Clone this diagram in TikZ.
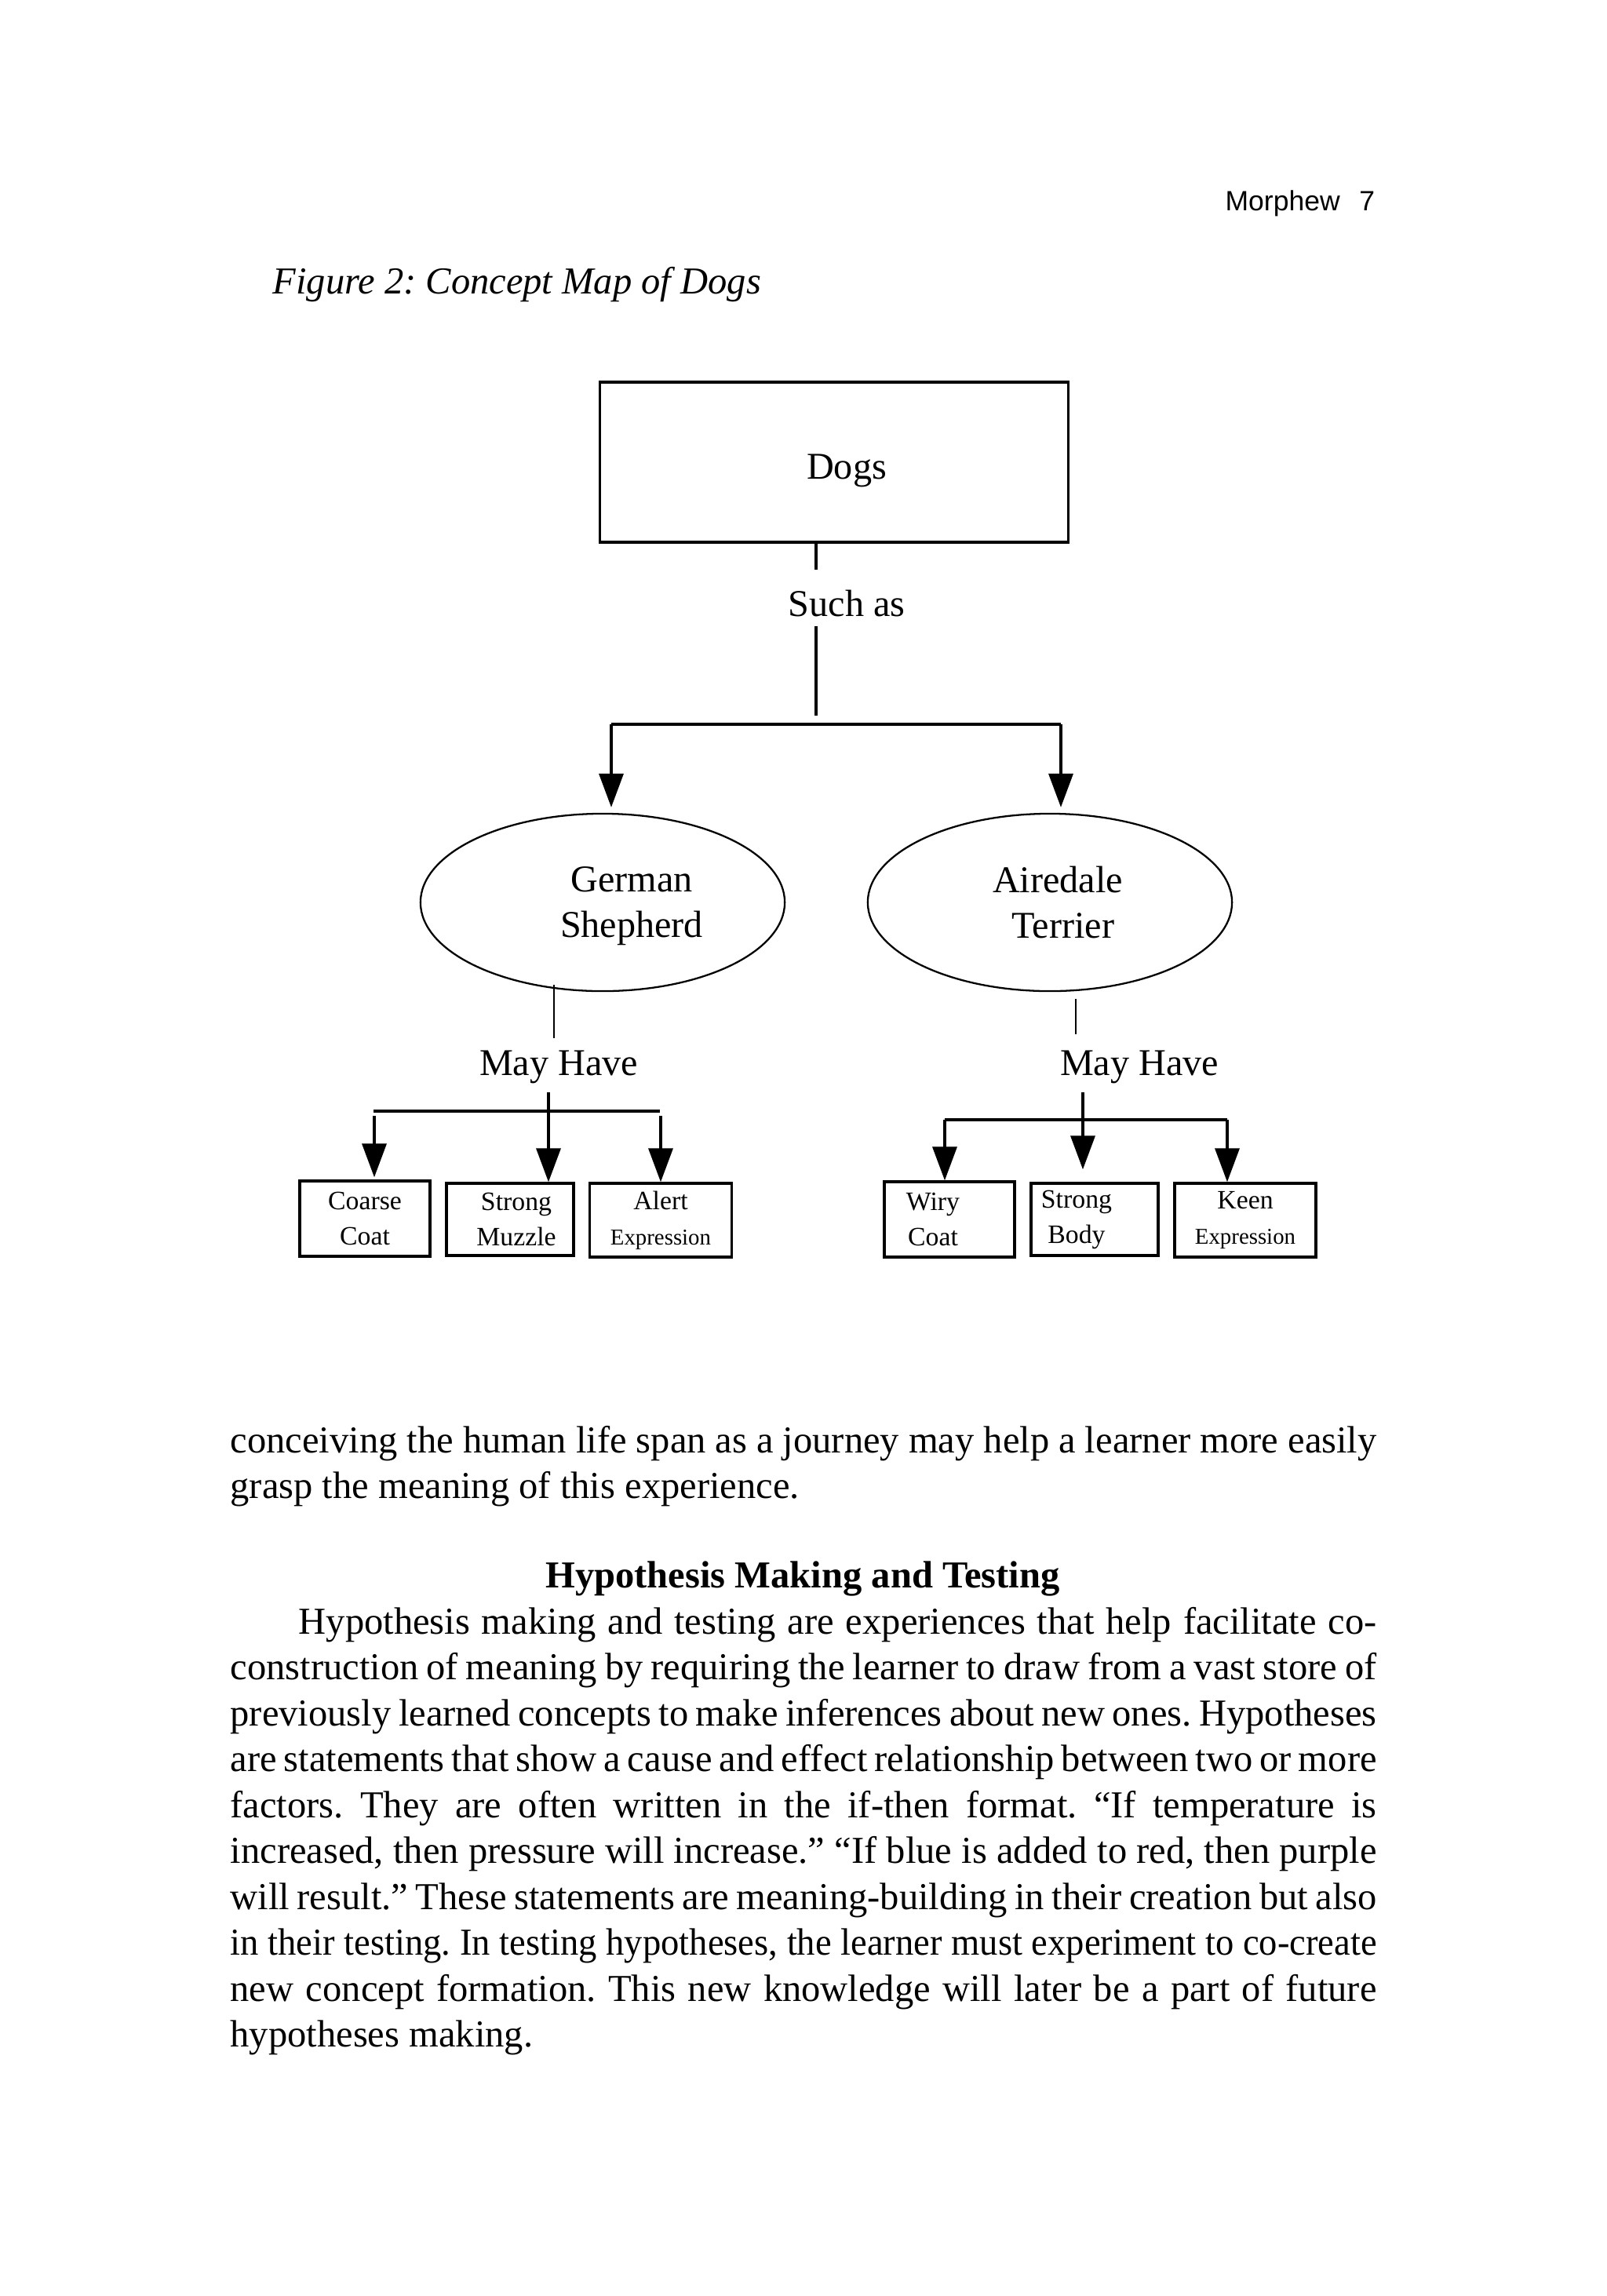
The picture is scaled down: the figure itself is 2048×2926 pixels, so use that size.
\documentclass[tikz,border=0pt]{standalone}
\usepackage{fontspec}
\setmainfont{Liberation Serif}
\newfontfamily\entete{Liberation Sans}
\usetikzlibrary{shapes.geometric,arrows.meta}
\frenchspacing

\begin{document}
\begin{tikzpicture}[x=0.01cm, y=-0.01cm]
\tikzset{
  boite/.style={draw, line width=0.95pt, inner sep=0pt, align=center, font=\fontsize{9.6}{12.8}\selectfont},
  gdboite/.style={draw, line width=0.9pt, inner sep=0pt, minimum width=5.96cm, minimum height=2.04cm, font=\fontsize{13.7}{16.5}\selectfont},
  bulle/.style={draw, ellipse, line width=0.65pt, inner sep=0pt, minimum width=4.64cm, minimum height=2.26cm, align=center, font=\fontsize{13.7}{16.5}\selectfont},
  mot/.style={inner sep=0pt, anchor=base, font=\fontsize{13.7}{16.5}\selectfont},
  lien/.style={line width=1pt},
  fin/.style={line width=0.7pt},
  fleche/.style={line width=1pt, -{Triangle[length=4.3mm, width=3.1mm]}},
  ligne/.style={inner sep=0pt, anchor=base west, font=\fontsize{13.8}{16.6}\selectfont},
}
\useasboundingbox (0,0) rectangle (2048,2926);
\node[inner sep=0pt, anchor=base east, font=\entete\fontsize{10.1}{12}\selectfont] (page) at (1753,268) {Morphew\hspace{0.7em}7};
\node[ligne, font=\fontsize{13.8}{16.6}\selectfont\itshape] (legende) at (347,374) {Figure 2: Concept Map of Dogs};

% la carte
\node[gdboite] (dogs) at (1063,589) {\hspace*{0.32cm}\raisebox{-0.21cm}[0pt][0pt]{Dogs}};
\node[mot] (suchas) at (1079,785) {Such as};
\node[bulle] (gs) at (768,1150) {\hspace*{0.74cm}German\\\hspace*{0.74cm}\raisebox{0pt}[\height][0pt]{Shepherd}};
\node[bulle] (at) at (1338,1150) {\hspace*{0.2cm}Airedale\\\hspace*{0.34cm}Terrier};
\node[mot] (mh1) at (712,1370) {May Have};
\node[mot] (mh2) at (1452,1370) {May Have};

\node[boite, minimum width=1.66cm, minimum height=0.96cm] (cc) at (465,1553) {Coarse\\Coat};
\node[boite, minimum width=1.62cm, minimum height=0.92cm] (sm) at (650,1554) {\hspace*{0.16cm}Strong\\\hspace*{0.16cm}Muzzle};
\node[boite, minimum width=1.81cm, minimum height=0.94cm] (ae) at (842,1555) {Alert\\{\fontsize{8.2}{12.8}\selectfont Expression}};
\node[boite, minimum width=1.66cm, minimum height=0.96cm] (wc) at (1210,1554) {Wiry\hspace*{0.42cm}\\Coat\hspace*{0.42cm}};
\node[boite, minimum width=1.62cm, minimum height=0.92cm] (sb) at (1395,1554) {Strong\hspace*{0.46cm}\\Body\hspace*{0.46cm}};
\node[boite, minimum width=1.80cm, minimum height=0.94cm] (ke) at (1587,1555) {Keen\\{\fontsize{8.2}{12.8}\selectfont Expression}};

\coordinate (s1) at (1040,726);
\coordinate (s2) at (1040,798);
\coordinate (s3) at (1040,912);
\coordinate (g1) at (779,923);
\coordinate (d1) at (1352,923);
\coordinate (gsbas) at (706,1255);
\coordinate (gsmh) at (706,1323);
\coordinate (atbas) at (1371,1273);
\coordinate (atmh) at (1371,1318);
\coordinate (mg) at (699,1392);
\coordinate (md) at (1380,1392);
\coordinate (hg1) at (476,1416);
\coordinate (hg2) at (841,1416);
\coordinate (fg1) at (477,1422);
\coordinate (fg3) at (842,1422);
\coordinate (hd1) at (1204,1427);
\coordinate (hd3) at (1564,1427);

\draw[lien] (dogs.south -| s1) -- (s1);
\draw[lien] (s2) -- (s3);
\draw[lien] (g1) -- (d1);
\draw[fleche, shorten >=0.07cm] (g1) -- (g1 |- gs.north);
\draw[fleche, shorten >=0.07cm] (d1) -- (d1 |- at.north);
\draw[fin] (gsbas) -- (gsmh);
\draw[fin] (atbas) -- (atmh);
\draw[lien] (hg1) -- (hg2);
\draw[fleche] (mg) -- (mg |- sm.north);
\draw[fleche, shorten >=0.03cm] (fg1) -- (fg1 |- cc.north);
\draw[fleche] (fg3) -- (fg3 |- ae.north);
\draw[lien] (hd1) -- (hd3);
\draw[fleche] (md) -- ([yshift=0.16cm]md |- sb.north);
\draw[fleche] (hd1) -- (hd1 |- wc.north);
\draw[fleche] (hd3) -- (hd3 |- ke.north);

% le texte
\node[ligne] (t1) at (293,1851) {\makebox[14.6cm][s]{conceiving the human life span as a journey may help a learner more easily}};
\node[ligne] (t2) at (293,1909) {grasp the meaning of this experience.};
\node[ligne, anchor=base] (titre) at (1023,2023.5) {\textbf{Hypothesis Making and Testing}};
\node[ligne] (p1) at (380,2082) {\makebox[13.73cm][s]{Hypothesis making and testing are experiences that help facilitate co-}};
\node[ligne] (p2) at (293,2140.5) {\makebox[14.6cm][s]{construction of meaning by requiring the learner to draw from a vast store of}};
\node[ligne] (p3) at (293,2199) {\makebox[14.6cm][s]{previously learned concepts to make inferences about new ones. Hypotheses}};
\node[ligne] (p4) at (293,2257.5) {\makebox[14.6cm][s]{are statements that show a cause and effect relationship between two or more}};
\node[ligne] (p5) at (293,2316) {\makebox[14.6cm][s]{factors. They are often written in the if-then format. “If temperature is}};
\node[ligne] (p6) at (293,2374.5) {\makebox[14.6cm][s]{increased, then pressure will increase.” “If blue is added to red, then purple}};
\node[ligne] (p7) at (293,2433) {\makebox[14.6cm][s]{will result.” These statements are meaning-building in their creation but also}};
\node[ligne] (p8) at (293,2491.5) {\resizebox{14.6cm}{\height}{in their testing. In testing hypotheses, the learner must experiment to co-create}};
\node[ligne] (p9) at (293,2550) {\makebox[14.6cm][s]{new concept formation. This new knowledge will later be a part of future}};
\node[ligne] (p10) at (293,2608.5) {hypotheses making.};
\end{tikzpicture}
\end{document}
